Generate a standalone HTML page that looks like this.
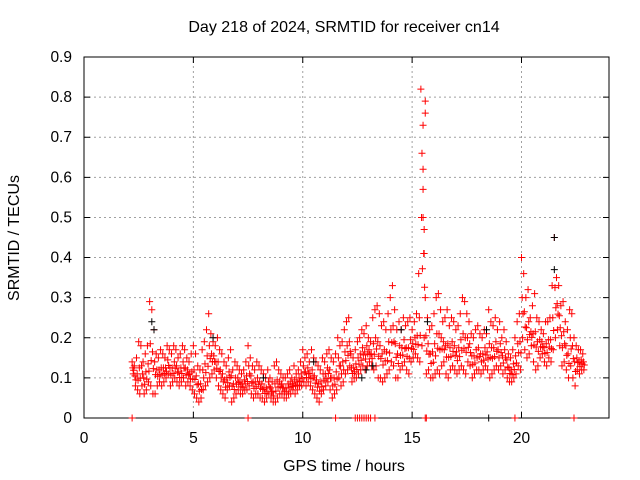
<!DOCTYPE html>
<html><head><meta charset="utf-8"><style>
body{margin:0;background:#fff;}
svg{display:block;font-family:"Liberation Sans",sans-serif;}
</style></head><body>
<svg id="chart" width="640" height="480">
<rect width="640" height="480" fill="#fff"/>
<text x="344" y="32" text-anchor="middle" font-size="16">Day 218 of 2024, SRMTID for receiver cn14</text>
<text x="344" y="471" text-anchor="middle" font-size="16">GPS time / hours</text>
<text transform="translate(19,238) rotate(-90)" text-anchor="middle" font-size="16">SRMTID / TECUs</text>
<g id="grid"></g><g id="axes"></g><g id="marks"></g>
</svg>
<script>
const xTicks=[0,5,10,15,20];
const yTicks=[0,0.1,0.2,0.3,0.4,0.5,0.6,0.7,0.8,0.9];
const startHour=2.2, stepHour=0.1;
const redHigh=[.14,.13,.15,.19,.18,.14,.16,.18,.29,.27,
.22,.16,.15,.17,.16,.15,.18,.17,.16,.18,
.17,.15,.16,.18,.17,.15,.14,.16,.18,.16,
.13,.12,.17,.19,.22,.26,.21,.19,.18,.2,
.17,.16,.14,.13,.15,.17,.12,.14,.13,.12,
.11,.12,.14,.18,.15,.13,.12,.14,.13,.12,
.11,.1,.12,.1,.09,.13,.14,.12,.11,.1,
.1,.11,.12,.1,.13,.11,.12,.14,.17,.15,
.16,.14,.17,.15,.14,.13,.12,.15,.14,.16,
.17,.15,.14,.16,.2,.18,.19,.22,.24,.25,
.16,.15,.17,.19,.2,.22,.21,.23,.2,.19,
.25,.27,.28,.26,.23,.24,.22,.26,.3,.33,
.27,.22,.24,.22,.25,.23,.24,.25,.22,.24,
.26,.36,.82,.62,.3,.25,.22,.23,.26,.3,
.31,.27,.24,.25,.27,.23,.25,.24,.22,.23,
.26,.3,.29,.26,.24,.21,.2,.22,.23,.21,
.2,.22,.21,.27,.24,.23,.25,.22,.24,.2,
.22,.19,.16,.15,.17,.2,.24,.26,.4,.36,
.3,.32,.25,.28,.31,.25,.24,.22,.21,.24,
.24,.25,.33,.45,.35,.33,.28,.29,.24,.22,
.27,.26,.2,.18,.17,.17,.16];
const redLow=[.11,.08,.07,.06,.08,.06,.07,.09,.08,.06,
.06,.08,.09,.08,.09,.1,.11,.08,.09,.1,
.09,.08,.09,.1,.08,.09,.08,.07,.06,.05,
.04,.05,.07,.08,.09,.1,.11,.12,.1,.08,
.07,.06,.05,.07,.08,.04,.05,.06,.07,.06,
.06,.07,.07,.08,.06,.05,.06,.06,.05,.05,
.04,.05,.06,.05,.04,.04,.05,.06,.06,.05,
.05,.06,.06,.07,.06,.07,.08,.08,.09,.08,
.09,.08,.07,.06,.05,.04,.06,.07,.08,.09,
.07,.05,.06,.07,.1,.08,.09,.11,.12,.13,
.09,.1,.1,.11,.12,.13,.12,.13,.14,.13,
.12,.13,.1,.1,.09,.1,.11,.12,.14,.13,
.1,.1,.12,.13,.14,.12,.11,.14,.15,.16,
.15,.14,.18,.2,.11,.12,.1,.1,.11,.12,
.11,.13,.14,.11,.1,.12,.13,.12,.11,.12,
.13,.12,.11,.14,.13,.1,.11,.12,.12,.11,
.12,.13,.12,.1,.11,.12,.13,.12,.13,.11,
.12,.1,.09,.09,.1,.11,.13,.12,.2,.17,
.15,.16,.18,.14,.12,.13,.15,.16,.14,.13,
.15,.14,.17,.2,.22,.18,.13,.14,.12,.1,
.13,.1,.08,.12,.11,.12,.12];
const spikeHours=[15.45,15.5,15.5,15.55,15.55,15.6,15.6,15.5];
const spikeValues=[.66,.57,.5,.47,.41,.79,.76,.73];
const blackHours=[3.1,3.2,5.9,12.7,12.9,13.2,14.5,15.7,18.4,21.5,21.5,10.5,8.2];
const blackValues=[.24,.22,.2,.1,.12,.13,.22,.24,.22,.45,.37,.14,.1];
const zeroHours=[2.2,7.5,11.5,12.4,12.5,12.6,12.7,12.8,12.9,13.0,13.1,13.3,15.6,15.65,19.7,22.4];
const blackZeroHours=[18.5];

const X0=84,X1=609,Y0=418,Y1=57;
const xs=h=>X0+(X1-X0)*h/24;
const ys=v=>Y0-(Y0-Y1)*v/0.9;
const NS="http://www.w3.org/2000/svg";
function mk(tag,attrs,parent){const e=document.createElementNS(NS,tag);for(const k in attrs)e.setAttribute(k,attrs[k]);parent.appendChild(e);return e;}
const grid=document.getElementById('grid'),axes=document.getElementById('axes'),marks=document.getElementById('marks');
xTicks.forEach(t=>{
 if(t>0){const g=mk('line',{x1:xs(t),x2:xs(t),y1:Y0,y2:Y1,stroke:'#a0a0a0','stroke-dasharray':'2,3'},grid);
 
 }
 const tk=mk('path',{d:`M${xs(t)},${Y0}v-6M${xs(t)},${Y1}v6`,stroke:'#000'},axes);
 
 
 const l=mk('text',{x:xs(t),y:443,'text-anchor':'middle','font-size':'15.5'},axes);l.textContent=t;
 
 
});
yTicks.forEach(t=>{
 if(t>0&&t<0.9){const g=mk('line',{x1:X0,x2:X1,y1:ys(t),y2:ys(t),stroke:'#a0a0a0','stroke-dasharray':'2,3'},grid);
 
 }
 const tk=mk('path',{d:`M${X0},${ys(t)}h6M${X1},${ys(t)}h-6`,stroke:'#000'},axes);
 
 
 const l=mk('text',{x:72,y:ys(t)+5,'text-anchor':'end','font-size':'15.5'},axes);l.textContent=(t===0?'0':t.toFixed(1));
 
 
});
const frame=mk('rect',{x:X0,y:Y1,width:X1-X0,height:Y0-Y1,fill:'none',stroke:'#000'},axes);


function cross(h,v,color,name){
 const x=xs(h),y=ys(v);
 const p=mk('path',{d:`M${x-3.5},${y}h7M${x},${y-3.5}v7`,stroke:color,'stroke-width':'1'},marks);
 
 
}
redHigh.forEach((v,i)=>{
 const h=startHour+stepHour*i;
 cross(h,v,'#f00','red-point');
 cross(h+0.05,redLow[i],'#f00','red-point');
 cross(h+0.03,(v+redLow[i])/2,'#f00','red-point');
 cross(h+0.07,(v*0.3+redLow[i]*0.7),'#f00','red-point');
});
spikeHours.forEach((h,i)=>cross(h,spikeValues[i],'#f00','red-spike-point'));
blackHours.forEach((h,i)=>cross(h,blackValues[i],'#000','black-point'));
zeroHours.forEach(h=>cross(h,0,'#f00','red-zero-point'));
blackZeroHours.forEach(h=>cross(h,0,'#000','black-zero-point'));
</script>
</body></html>
